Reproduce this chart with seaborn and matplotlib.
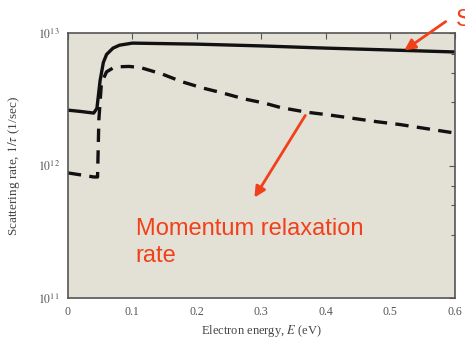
import matplotlib
matplotlib.use("Agg")
import matplotlib.pyplot as plt
import matplotlib.ticker as mticker
import numpy as np
import pandas as pd
import seaborn as sns

# Data
energy_total = [0.0, 0.02, 0.04, 0.045, 0.05, 0.055, 0.06, 0.07, 0.08, 0.1, 0.2, 0.3, 0.4, 0.5, 0.6]
rate_total = [2.62e12, 2.56e12, 2.49e12, 2.7e12, 4.4e12, 6.0e12, 6.9e12, 7.7e12, 8.1e12, 8.4e12,
              8.25e12, 8.0e12, 7.7e12, 7.45e12, 7.2e12]

energy_mom = [0.0, 0.02, 0.04, 0.046, 0.048, 0.052, 0.06, 0.07, 0.08, 0.095, 0.112, 0.146, 0.177,
              0.209, 0.24, 0.274, 0.305, 0.33, 0.37, 0.405, 0.44, 0.48, 0.515, 0.55, 0.6]
rate_mom = [8.8e11, 8.5e11, 8.2e11, 8.2e11, 2.2e12, 4.2e12, 5.1e12, 5.45e12, 5.57e12, 5.6e12,
            5.5e12, 4.91e12, 4.29e12, 3.85e12, 3.53e12, 3.18e12, 2.96e12, 2.74e12, 2.53e12,
            2.41e12, 2.28e12, 2.14e12, 2.04e12, 1.92e12, 1.76e12]

x_ticks = [0, 0.1, 0.2, 0.3, 0.4, 0.5, 0.6]
x_tick_labels = ["0", "0.1", "0.2", "0.3", "0.4", "0.5", "0.6"]
y_ticks = [1e11, 1e12, 1e13]
y_tick_labels = [r"$10^{11}$", r"$10^{12}$", r"$10^{13}$"]

sns.set_style("white")
plt.rcParams["font.family"] = ["Liberation Serif", "DejaVu Serif"]
plt.rcParams["mathtext.fontset"] = "stix"

fig = plt.figure(figsize=(4.65, 3.41), dpi=100)
ax = fig.add_axes([0.146, 0.126, 0.832, 0.777])
ax.set_facecolor("#e3e0d6")

df_t = pd.DataFrame({"E": energy_total, "rate": rate_total})
df_m = pd.DataFrame({"E": energy_mom, "rate": rate_mom})
sns.lineplot(data=df_t, x="E", y="rate", ax=ax, color="#111111", lw=2.4, sort=False)
sns.lineplot(data=df_m, x="E", y="rate", ax=ax, color="#111111", lw=2.4, sort=False,
             linestyle=(0, (4, 2.5)))

ax.set_yscale("log")
ax.set_xlim(0, 0.6)
ax.set_ylim(1e11, 1e13)
ax.set_xticks(x_ticks)
ax.set_xticklabels(x_tick_labels, fontsize=8.5, color="#555555")
ax.set_yticks(y_ticks)
ax.set_yticklabels(y_tick_labels, fontsize=8.5, color="#555555")
ax.yaxis.set_minor_locator(mticker.LogLocator(base=10, subs=(3, 5, 7)))
ax.yaxis.set_minor_formatter(mticker.NullFormatter())
ax.tick_params(which="both", direction="in", top=True, right=True, color="#555555")
ax.tick_params(which="major", length=4, width=0.8, pad=6)
ax.tick_params(which="minor", length=3, width=0.8)
for s in ax.spines.values():
    s.set_color("#555555")
    s.set_linewidth(1.2)
ax.set_xlabel("Electron energy, $E$ (eV)", fontsize=9, color="#444444")
ax.set_ylabel(r"Scattering rate, $1/\tau$ (1/sec)", fontsize=9.5, color="#444444")
ax.xaxis.set_label_coords(0.5, -0.095)
ax.yaxis.set_label_coords(-0.118, 0.5)

red = "#f2401a"
ax.annotate("", xy=(0.287, 5.5e11), xytext=(0.3705, 2.49e12),
            arrowprops=dict(arrowstyle="-|>", color=red, lw=2, mutation_scale=16))
fig.text(0.292, 1 - 235 / 341, "Momentum relaxation", fontsize=17, color=red,
         family="Liberation Sans", va="baseline")
fig.text(0.292, 1 - 262 / 341, "rate", fontsize=17, color=red,
         family="Liberation Sans", va="baseline")
fig.add_artist(matplotlib.patches.FancyArrowPatch((448 / 465, 1 - 20 / 341), (402 / 465, 1 - 52 / 341),
               transform=fig.transFigure, arrowstyle="-|>", color=red, lw=2, mutation_scale=16))
fig.text(0.981, 1 - 20 / 341, "Scattering rate", fontsize=17, color=red,
         family="Liberation Sans", va="center")

fig.savefig("out.png", dpi=100)
